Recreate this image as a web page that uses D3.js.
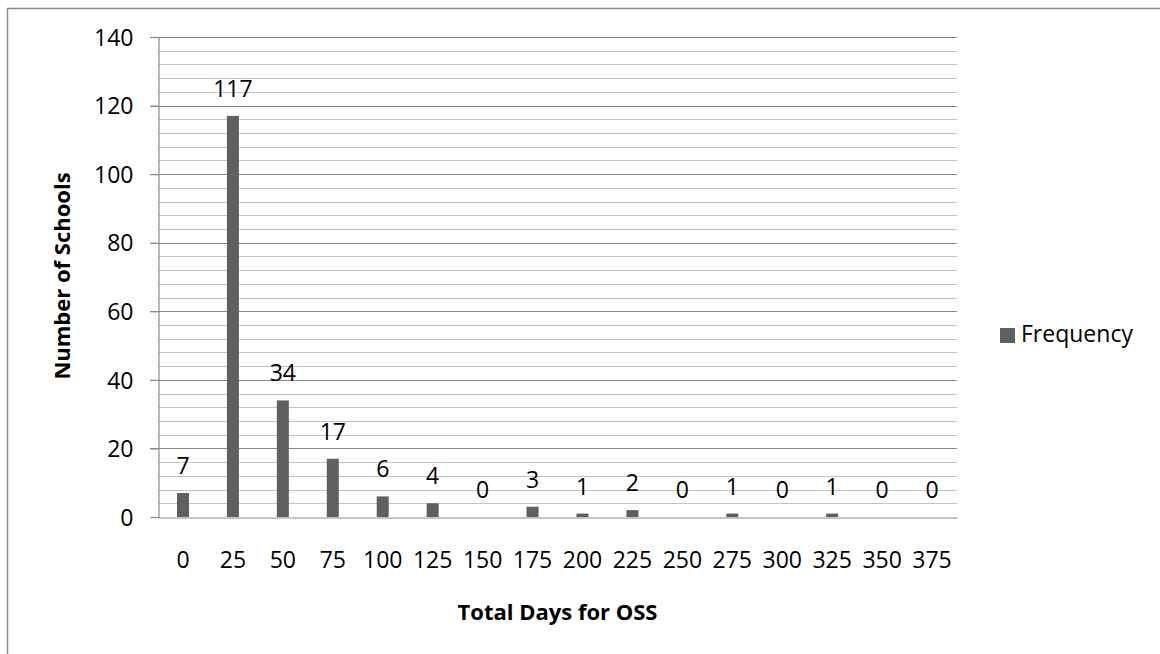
<!DOCTYPE html>
<html><head><meta charset="utf-8">
<script src="https://cdn.jsdelivr.net/npm/d3@7"></script>
<style>html,body{margin:0;padding:0;background:#fff}svg{display:block}</style>
</head><body>
<script>
const categories = ["0","25","50","75","100","125","150","175","200","225","250","275","300","325","350","375"];
const frequency = [7,117,34,17,6,4,0,3,1,2,0,1,0,1,0,0];
const yTicks = [0,20,40,60,80,100,120,140];
const seriesName = "Frequency";
const xTitle = "Total Days for OSS";
const yTitle = "Number of Schools";

const W = 1160, H = 654;
const m = {left:158, right:203, top:37, bottom:137};
const font = "'Open Sans', sans-serif";
const fs = 23;
const svg = d3.select("body").append("svg").attr("width",W).attr("height",H);

svg.append("rect").attr("x",7.5).attr("y",8.5).attr("width",W).attr("height",H)
  .attr("fill","#fff").attr("stroke","#8a8a8a").attr("stroke-width",1.5);

const x = d3.scaleBand().domain(categories).range([m.left, W-m.right]);
const y = d3.scaleLinear().domain([0,140]).range([H-m.bottom, m.top]);

// minor gridlines
const minor = d3.range(0,141,4).filter(v=>v%20!==0);
svg.append("g").selectAll("line").data(minor).join("line")
  .attr("x1",m.left).attr("x2",W-m.right)
  .attr("y1",d=>Math.round(y(d))+0.5).attr("y2",d=>Math.round(y(d))+0.5)
  .attr("stroke","#c4c4c4").attr("stroke-width",1.2);
// major gridlines
svg.append("g").selectAll("line").data(yTicks.filter(v=>v>0)).join("line")
  .attr("x1",m.left-8).attr("x2",W-m.right)
  .attr("y1",d=>Math.round(y(d))+0.5).attr("y2",d=>Math.round(y(d))+0.5)
  .attr("stroke","#8a8a8a").attr("stroke-width",1.2);

// y axis
const yAxis = d3.axisLeft(y).tickValues(yTicks).tickSize(8).tickPadding(17);
const gy = svg.append("g").attr("transform",`translate(${m.left+0.5},0)`).call(yAxis);
gy.select(".domain").attr("stroke","#8a8a8a").attr("stroke-width",1.2);
gy.selectAll(".tick line").attr("stroke","#8a8a8a").attr("stroke-width",1.2);
gy.selectAll(".tick text").attr("font-family",font).attr("font-size",fs).attr("fill","#000").attr("dy","0.36em");

// x axis
const xAxis = d3.axisBottom(x).tickSize(0).tickPadding(34);
const gx = svg.append("g").attr("transform",`translate(0,${Math.round(y(0))+0.5})`).call(xAxis);
gx.select(".domain").attr("stroke","#8a8a8a").attr("stroke-width",1.2);
gx.selectAll(".tick text").attr("font-family",font).attr("font-size",fs).attr("fill","#000");

// bars
const bw = 12;
svg.append("g").selectAll("rect").data(frequency).join("rect")
  .attr("x",(d,i)=>x(categories[i])+x.bandwidth()/2-bw/2)
  .attr("y",d=>y(d))
  .attr("width",bw)
  .attr("height",d=>y(0)-y(d))
  .attr("fill","#5f5f5f");

// data labels
svg.append("g").selectAll("text").data(frequency).join("text")
  .attr("x",(d,i)=>x(categories[i])+x.bandwidth()/2)
  .attr("y",d=>y(d)-19)
  .attr("text-anchor","middle")
  .attr("font-family",font).attr("font-size",fs).attr("fill","#000")
  .text(d=>d);

// axis titles
svg.append("text").attr("x",(m.left+W-m.right)/2).attr("y",620)
  .attr("text-anchor","middle").attr("font-family",font).attr("font-weight","bold")
  .attr("font-size",22).attr("fill","#000").text(xTitle);
svg.append("text").attr("transform","translate(70,276) rotate(-90)")
  .attr("text-anchor","middle").attr("font-family",font).attr("font-weight","bold")
  .attr("font-size",22).attr("fill","#000").text(yTitle);

// legend
svg.append("rect").attr("x",1000).attr("y",328).attr("width",15).attr("height",15).attr("fill","#5f5f5f");
svg.append("text").attr("x",1021).attr("y",342).attr("font-family",font).attr("font-size",fs)
  .attr("fill","#000").text(seriesName);
</script>
</body></html>
